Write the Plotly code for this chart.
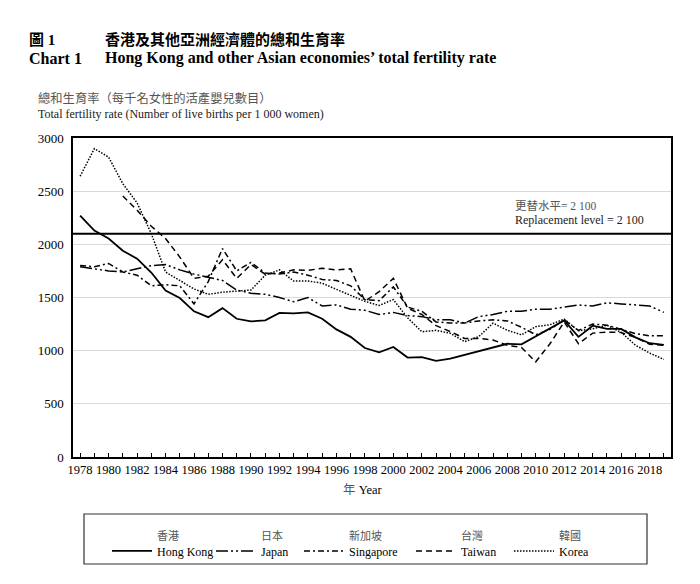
import plotly.graph_objects as go

years = list(range(1978, 2020))

hong_kong = [2270, 2130, 2055, 1940, 1865, 1735, 1565, 1495, 1370, 1315, 1400, 1300, 1275, 1285,
             1355, 1350, 1360, 1300, 1200, 1130, 1025, 985, 1035, 935, 940, 905, 925, 960, 990,
             1030, 1065, 1060, 1135, 1215, 1285, 1130, 1235, 1205, 1205, 1125, 1070, 1055]
japan = [1790, 1770, 1750, 1740, 1770, 1800, 1810, 1760, 1720, 1690, 1660, 1570, 1540, 1530,
         1500, 1460, 1500, 1420, 1430, 1390, 1380, 1340, 1360, 1330, 1320, 1290, 1290, 1260,
         1320, 1340, 1370, 1370, 1390, 1390, 1410, 1430, 1420, 1450, 1440, 1430, 1420, 1360]
singapore = [1800, 1790, 1820, 1740, 1710, 1610, 1620, 1610, 1440, 1650, 1960, 1750, 1830, 1730,
             1720, 1740, 1710, 1670, 1660, 1610, 1480, 1470, 1600, 1410, 1370, 1270, 1260, 1260,
             1280, 1290, 1280, 1220, 1150, 1200, 1290, 1190, 1250, 1240, 1200, 1160, 1140, 1140]
taiwan = [None, None, None, 2455, 2320, 2170, 2055, 1880, 1680, 1700, 1855, 1680, 1810, 1720,
          1730, 1760, 1755, 1775, 1760, 1770, 1465, 1555, 1680, 1400, 1340, 1235, 1180, 1115,
          1115, 1100, 1050, 1030, 895, 1065, 1270, 1065, 1165, 1175, 1170, 1125, 1060, 1050]
korea = [2640, 2900, 2820, 2570, 2390, 2100, 1740, 1660, 1580, 1530, 1550, 1560, 1570, 1710,
         1760, 1654, 1656, 1634, 1574, 1520, 1464, 1425, 1480, 1309, 1178, 1191, 1164, 1085,
         1132, 1259, 1192, 1149, 1226, 1244, 1297, 1187, 1205, 1239, 1172, 1052, 977, 918]

series_zh = ["香港", "日本", "新加坡", "台灣", "韓國"]
series_en = ["Hong Kong", "Japan", "Singapore", "Taiwan", "Korea"]
replacement_level = 2100
x_tick_years = list(range(1978, 2019, 2))
y_ticks = [0, 500, 1000, 1500, 2000, 2500, 3000]

FONT = "Liberation Serif, Noto Sans CJK TC, serif"
GRAY = "#555555"

# layout geometry (pixels); the page body adds an 8px offset
OFF = 8
W, H = 700, 584
L, R, T, B = 65, 37, 130, 135
PW, PH = W - L - R, H - T - B


def px_x(px):
    """absolute page x -> paper x"""
    return (px - OFF - L) / PW


def px_y(py):
    """absolute page y -> paper y"""
    return (H - B + OFF - py) / PH


styles = [
    dict(dash="solid", width=1.8),
    dict(dash="12px,3px,2px,3px,2px,3px", width=1.5),
    dict(dash="6px,3px,2px,3px", width=1.5),
    dict(dash="6px,4px", width=1.5),
    dict(dash="1.5px,1.5px", width=1.5),
]
values = [hong_kong, japan, singapore, taiwan, korea]
legend_ids = ["legend", "legend2", "legend3", "legend4", "legend5"]
legend_sym_x = [112, 216, 304, 416, 514]

fig = go.Figure()
for zh, en, vals, st, lg in zip(series_zh, series_en, values, styles, legend_ids):
    fig.add_trace(go.Scatter(
        x=years, y=vals, mode="lines",
        name=f"<span style='color:{GRAY};font-size:11px'>{zh}</span><br>{en}",
        line=dict(color="black", width=st["width"], dash=st["dash"]),
        connectgaps=False, legend=lg, hoverinfo="skip",
    ))

legend_layout = {}
for lg, sx in zip(legend_ids, legend_sym_x):
    legend_layout[lg] = dict(
        x=px_x(sx - 5), y=px_y(521), xanchor="left", yanchor="top",
        bgcolor="rgba(0,0,0,0)", borderwidth=0, valign="bottom",
        font=dict(family=FONT, size=12, color="black"),
        itemwidth=40, tracegroupgap=0,
    )

annotations = [
    dict(text="<b>圖 1</b>", x=px_x(27), y=px_y(40), font=dict(size=15)),
    dict(text="<b>香港及其他亞洲經濟體的總和生育率</b>", x=px_x(103), y=px_y(40), font=dict(size=15)),
    dict(text="<b>Chart 1</b>", x=px_x(27), y=px_y(58), font=dict(size=16)),
    dict(text="<b>Hong Kong and other Asian economies’ total fertility rate</b>", x=px_x(103), y=px_y(58),
         font=dict(size=16)),
    dict(text="總和生育率（每千名女性的活產嬰兒數目）", x=px_x(36), y=px_y(98),
         font=dict(size=12.3, color=GRAY)),
    dict(text="Total fertility rate (Number of live births per 1 000 women)", x=px_x(36), y=px_y(114),
         font=dict(size=12, color="#222222")),
    dict(text=f"<span style='color:{GRAY}'>年</span> Year", x=px_x(363), y=px_y(490),
         xanchor="center", font=dict(size=12.5)),
    dict(text="更替水平= 2 100", x=px_x(513), y=px_y(205), font=dict(size=11.5, color=GRAY)),
    dict(text="Replacement level = 2 100", x=px_x(513), y=px_y(220), font=dict(size=12, color="#222222")),
]
for a in annotations:
    a.setdefault("xanchor", "left")
    a.update(xref="paper", yref="paper", yanchor="middle", showarrow=False)
    a["font"] = dict(family=FONT, color=a["font"].get("color", "black"), size=a["font"]["size"])

fig.update_layout(
    width=W, height=H,
    margin=dict(l=L, r=R, t=T, b=B, pad=0),
    paper_bgcolor="white", plot_bgcolor="white",
    font=dict(family=FONT, color="black"),
    showlegend=True,
    annotations=annotations,
    shapes=[
        dict(type="line", xref="paper", x0=0, x1=1, yref="y", y0=replacement_level, y1=replacement_level,
             line=dict(color="black", width=2)),
        dict(type="rect", xref="paper", yref="paper", x0=px_x(84), x1=px_x(647),
             y0=px_y(564), y1=px_y(514), line=dict(color="#333333", width=1.2)),
    ],
    xaxis=dict(
        range=[1977.5, 2019.5], tickmode="array", tickvals=x_tick_years,
        ticktext=[str(y) for y in x_tick_years],
        ticks="inside", ticklen=4, tickcolor="black", tickwidth=1,
        minor=dict(ticks="inside", dtick=1, tick0=1978, ticklen=4, tickcolor="black", tickwidth=1),
        showgrid=False, zeroline=False,
        showline=True, linecolor="black", linewidth=1.5, mirror=True,
        tickfont=dict(family=FONT, size=12.5, color="black"),
        fixedrange=True,
    ),
    yaxis=dict(
        range=[0, 3000], tickmode="array", tickvals=y_ticks,
        ticks="", showgrid=True, gridcolor="#d9d9d9", gridwidth=1,
        zeroline=False, showline=True, linecolor="black", linewidth=1.5, mirror=True,
        tickfont=dict(family=FONT, size=13, color="black"),
        ticklabelstandoff=5, fixedrange=True,
    ),
    **legend_layout,
)

fig.write_html("out.html")
